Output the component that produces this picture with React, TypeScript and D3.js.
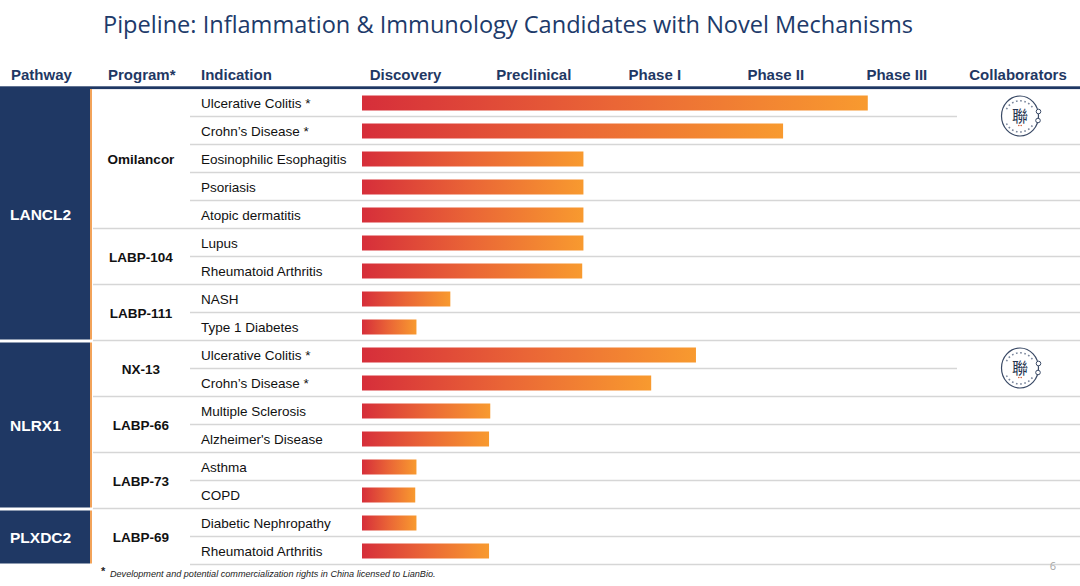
import React from 'react';
import * as d3 from 'd3';

const title = 'Pipeline: Inflammation & Immunology Candidates with Novel Mechanisms';
const headers = ['Pathway', 'Program*', 'Indication'];
const stages = ['Discovery', 'Preclinical', 'Phase I', 'Phase II', 'Phase III'];
const collabHeader = 'Collaborators';

const pathways = ['LANCL2', 'NLRX1', 'PLXDC2'];
const pathwayProgramCounts = [3, 3, 1];
const programs = ['Omilancor', 'LABP-104', 'LABP-111', 'NX-13', 'LABP-66', 'LABP-73', 'LABP-69'];
const programRowCounts = [5, 2, 2, 2, 2, 2, 2];
const indications = [
  'Ulcerative Colitis *',
  'Crohn\u2019s Disease *',
  'Eosinophilic Esophagitis',
  'Psoriasis',
  'Atopic dermatitis',
  'Lupus',
  'Rheumatoid Arthritis',
  'NASH',
  'Type 1 Diabetes',
  'Ulcerative Colitis *',
  'Crohn\u2019s Disease *',
  'Multiple Sclerosis',
  "Alzheimer's Disease",
  'Asthma',
  'COPD',
  'Diabetic Nephropathy',
  'Rheumatoid Arthritis',
];
// progress in stage units (1 = one full stage column)
const progress = [4.18, 3.48, 1.83, 1.83, 1.83, 1.83, 1.82, 0.73, 0.45, 2.76, 2.39, 1.06, 1.05, 0.45, 0.44, 0.45, 1.05];
const collaboratorRows = [0, 9];
const footnote = 'Development and potential commercialization rights in China licensed to LianBio.';
const pageNumber = '6';

const NAVY = '#1f3864';
const SANS = '"Liberation Sans", Arial, sans-serif';

function Logo({ cx, cy }: { cx: number; cy: number }) {
  const r = 18.5;
  const tr = 15;
  const ink = '#3a4a66';
  return (
    <g>
      <ellipse cx={cx} cy={cy} rx={r} ry={r + 1.5} fill="#fff" stroke={ink} strokeWidth={1.2} />
      {/* tiny ring lettering, drawn as dashes */}
      <path
        d={`M ${cx - tr * 0.9} ${cy - tr * 0.45} A ${tr} ${tr} 0 0 1 ${cx + tr * 0.9} ${cy - tr * 0.45}`}
        fill="none"
        stroke="#7a869c"
        strokeWidth={1.6}
        strokeDasharray="1.6 2.6"
      />
      <path
        d={`M ${cx - tr * 0.9} ${cy + tr * 0.5} A ${tr} ${tr} 0 0 0 ${cx + tr * 0.9} ${cy + tr * 0.5}`}
        fill="none"
        stroke="#7a869c"
        strokeWidth={1.6}
        strokeDasharray="1.6 2.6"
      />
      <circle cx={cx + r} cy={cy - 4.5} r={2.3} fill="#fff" stroke={ink} strokeWidth={1} />
      <circle cx={cx + r - 0.5} cy={cy + 4.5} r={2.3} fill="#fff" stroke={ink} strokeWidth={1} />
      <text
        x={cx}
        y={cy + 5.5}
        textAnchor="middle"
        fontSize={16}
        fill="#25334f"
        fontFamily='"Noto Sans CJK TC", "Noto Sans CJK SC", sans-serif'
      >
        聯
      </text>
      <circle cx={cx - 1.2} cy={cy + 9.5} r={0.8} fill="#d0603a" />
      <circle cx={cx + 1.2} cy={cy + 9.5} r={0.8} fill="#d0603a" />
    </g>
  );
}

export default function App() {
  const W = 1080;
  const H = 586;
  const nRows = indications.length;
  const y = d3.scaleLinear().domain([0, nRows]).range([89, 565]);
  const x = d3.scaleLinear().domain([0, stages.length]).range([362, 967]);
  const rowC = (i: number) => (y(i) + y(i + 1)) / 2;

  const progEnds = Array.from(d3.cumsum(programRowCounts));
  const progStarts = progEnds.map((e, i) => e - programRowCounts[i]);
  const pathProgEnds = Array.from(d3.cumsum(pathwayProgramCounts));
  const pathRanges = pathways.map((_, j) => {
    const pe = pathProgEnds[j];
    const ps = pe - pathwayProgramCounts[j];
    return [progStarts[ps], progEnds[pe - 1]];
  });
  const progBoundaries = new Set(progEnds);

  const headerY = 79.5;
  const headerX = [11, 108, 201];

  return (
    <svg
      width={W}
      height={H}
      viewBox={`0 0 ${W} ${H}`}
      style={{ position: 'absolute', left: 0, top: 0, background: '#fff' }}
    >
      <defs>
        <linearGradient id="barGrad" x1="0" x2="1" y1="0" y2="0">
          <stop offset="0%" stopColor="#d62e3a" />
          <stop offset="50%" stopColor="#ea6636" />
          <stop offset="100%" stopColor="#f89a2f" />
        </linearGradient>
      </defs>
      <rect x={0} y={0} width={W} height={H} fill="#fff" />

      {/* Title */}
      <text
        x={508}
        y={33}
        textAnchor="middle"
        fontSize={23}
        fill="#203a6a"
        fontFamily='"Open Sans", "Noto Sans", sans-serif'
        textLength={810}
        lengthAdjust="spacingAndGlyphs"
      >
        {title}
      </text>

      {/* Header row */}
      {headers.map((h, i) => (
        <text key={h} x={headerX[i]} y={headerY} fontSize={15} fontWeight="bold" fill={NAVY} fontFamily={SANS}>
          {h}
        </text>
      ))}
      {stages.map((s, i) => (
        <text
          key={s}
          x={i === 0 ? x(0.36) : x(i + 0.42)}
          y={headerY}
          textAnchor="middle"
          fontSize={15}
          fontWeight="bold"
          fill={NAVY}
          fontFamily={SANS}
        >
          {s}
        </text>
      ))}
      <text x={1018} y={headerY} textAnchor="middle" fontSize={15} fontWeight="bold" fill={NAVY} fontFamily={SANS}>
        {collabHeader}
      </text>

      {/* Row separators */}
      {d3.range(1, nRows + 1).map((k) => {
        const x1 = progBoundaries.has(k) && k < nRows ? 93 : 190;
        const x2 = collaboratorRows.includes(k - 1) ? 957 : W;
        return <line key={k} x1={x1} x2={x2} y1={y(k) - 0.5} y2={y(k) - 0.5} stroke="#d6d6d6" strokeWidth={1.5} />;
      })}

      {/* Header underline */}
      <rect x={0} y={86.3} width={W} height={2.8} fill={NAVY} />

      {/* Pathway boxes */}
      {pathways.map((p, j) => {
        const [s, e] = pathRanges[j];
        const top = j === 0 ? y(s) : y(s) + 1.5;
        const bot = y(e) - 1.5;
        return (
          <g key={p}>
            <rect x={0} y={top} width={90} height={bot - top} fill={NAVY} />
            <rect x={90} y={top} width={2} height={bot - top} fill="#f2a35a" />
            <text
              x={10}
              y={(top + bot) / 2 + 5.5}
              fontSize={15.5}
              fontWeight="bold"
              fill="#fff"
              fontFamily={SANS}
            >
              {p}
            </text>
          </g>
        );
      })}

      {/* Programs */}
      {programs.map((p, i) => {
        const cy = (y(progStarts[i]) + y(progEnds[i])) / 2;
        return (
          <text
            key={p}
            x={141}
            y={cy + 5}
            textAnchor="middle"
            fontSize={13.5}
            fontWeight="bold"
            fill="#111"
            fontFamily={SANS}
          >
            {p}
          </text>
        );
      })}

      {/* Indications */}
      {indications.map((d, i) => (
        <text key={i} x={201} y={rowC(i) + 4.8} fontSize={13.5} fill="#111" fontFamily={SANS}>
          {d}
        </text>
      ))}

      {/* Bars */}
      {progress.map((v, i) => (
        <rect
          key={i}
          x={x(0)}
          y={rowC(i) - 7.5}
          width={x(v) - x(0)}
          height={15}
          fill="url(#barGrad)"
        />
      ))}

      {/* Collaborator logos */}
      {collaboratorRows.map((r) => (
        <Logo key={r} cx={1020} cy={y(r + 1) - 1} />
      ))}

      {/* Footnote */}
      <text x={101} y={575} fontSize={11} fontWeight="bold" fill="#222" fontFamily={SANS}>
        *
      </text>
      <text x={110} y={577} fontSize={9.1} fontStyle="italic" fill="#222" fontFamily={SANS}>
        {footnote}
      </text>
      <text x={1053} y={570} textAnchor="middle" fontSize={11} fill="#a6a6a6" fontFamily='"Open Sans", sans-serif'>
        {pageNumber}
      </text>
    </svg>
  );
}
